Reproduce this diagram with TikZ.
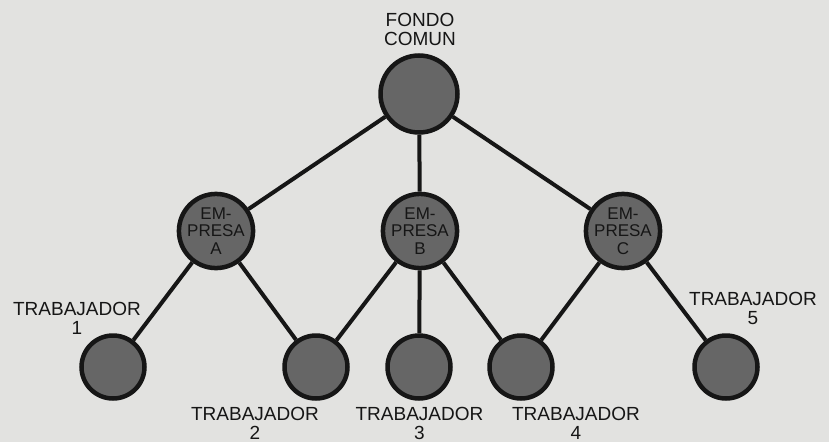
\documentclass[tikz,border=0pt]{standalone}
\usepackage{fontspec}
\setmainfont{Liberation Sans}
\definecolor{bg}{RGB}{226,226,224}
\definecolor{fillg}{RGB}{102,102,102}
\definecolor{ink}{RGB}{22,22,22}
\begin{document}
\begin{tikzpicture}[x=1pt,y=-1pt,
  lbl/.style={align=center,font=\fontsize{19}{19}\selectfont,text=ink,inner sep=0pt},
  big/.style={circle,draw=ink,fill=fillg,line width=4.5pt,minimum size=77pt,inner sep=0pt},
  firm/.style={circle,draw=ink,fill=fillg,line width=4.5pt,minimum size=73pt,inner sep=0pt,
     align=center,font=\fontsize{17}{17.5}\selectfont,text=ink},
  wrk/.style={circle,draw=ink,fill=fillg,line width=4.5pt,minimum size=63pt,inner sep=0pt},
  edge/.style={draw=ink,line width=4pt}]
\fill[bg] (0,0) rectangle (829,442);
\useasboundingbox (0,0) rectangle (829,442);
% nodes
\node[big] (F) at (419,94) {};
\node[firm] (A) at (216,231) {EM-\\PRESA\\A};
\node[firm] (B) at (420,231) {EM-\\PRESA\\B};
\node[firm] (C) at (623,231) {EM-\\PRESA\\C};
\node[wrk] (w1) at (113,367) {};
\node[wrk] (w2) at (316,367) {};
\node[wrk] (w3) at (419,367) {};
\node[wrk] (w4) at (521,367) {};
\node[wrk] (w5) at (726,367) {};
% edges
\draw[edge] (F) -- (A);
\draw[edge] (F) -- (B);
\draw[edge] (F) -- (C);
\draw[edge] (A) -- (w1);
\draw[edge] (A) -- (w2);
\draw[edge] (B) -- (w2);
\draw[edge] (B) -- (w3);
\draw[edge] (B) -- (w4);
\draw[edge] (C) -- (w4);
\draw[edge] (C) -- (w5);
% labels
\node[lbl] (lF) at (420,29) {FONDO\\COMUN};
\node[lbl] (l1) at (77,318) {TRABAJADOR\\1};
\node[lbl] (l5) at (753,308) {TRABAJADOR\\5};
\node[lbl] (l2) at (255,423) {TRABAJADOR\\2};
\node[lbl] (l3) at (419.5,423) {TRABAJADOR\\3};
\node[lbl] (l4) at (576,423) {TRABAJADOR\\4};
\end{tikzpicture}
\end{document}
